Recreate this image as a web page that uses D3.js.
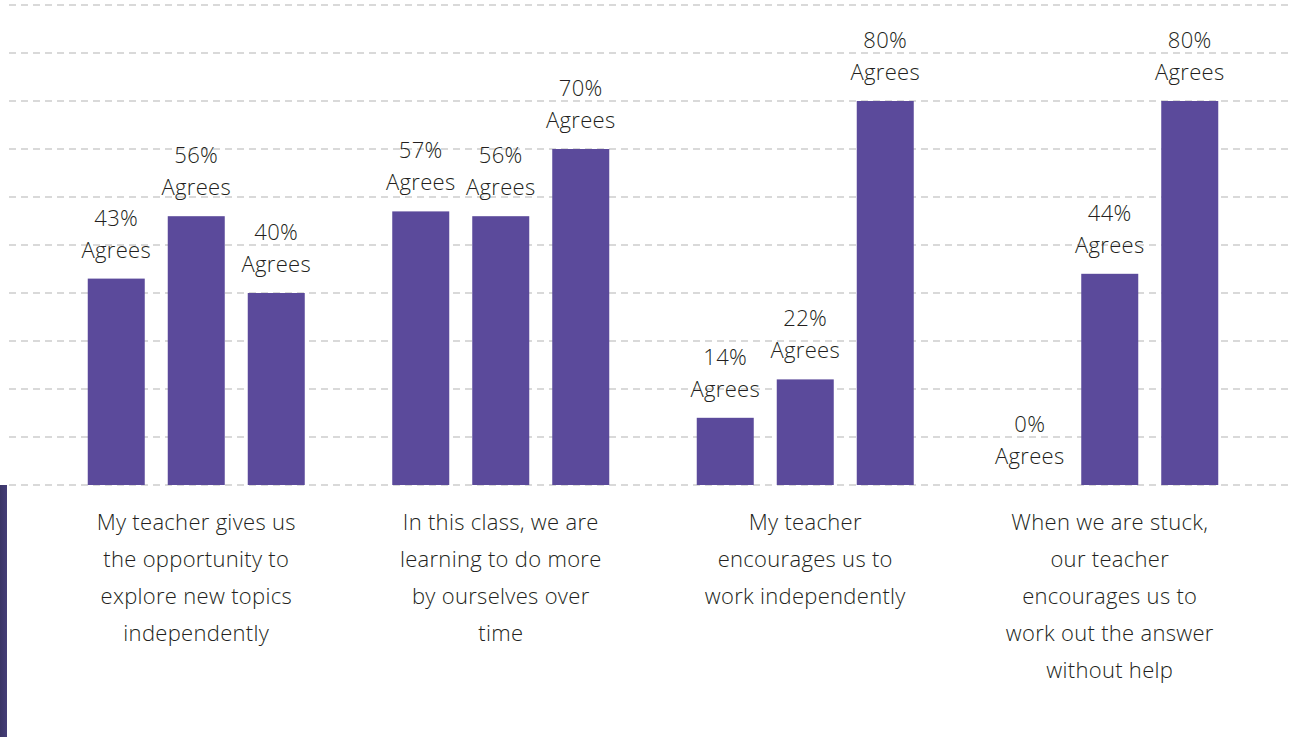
<!DOCTYPE html>
<html>
<head>
<meta charset="utf-8">
<script src="https://cdn.jsdelivr.net/npm/d3@7"></script>
<style>
  html, body { margin: 0; padding: 0; background: #fff; }
  svg { display: block; }
  text { font-family: "Open Sans", Lato, sans-serif; font-weight: 300; letter-spacing: 0.3px; fill: #231f20; }
</style>
</head>
<body>
<svg id="chart" width="1292" height="737"></svg>
<script>
// data
const categories = [
  ['My teacher gives us', 'the opportunity to', 'explore new topics', 'independently'],
  ['In this class, we are', 'learning to do more', 'by ourselves over', 'time'],
  ['My teacher', 'encourages us to', 'work independently'],
  ['When we are stuck,', 'our teacher', 'encourages us to', 'work out the answer', 'without help']
];
const seriesKeys = ['s1', 's2', 's3'];
const s1 = [43, 57, 14, 0];
const s2 = [56, 56, 22, 44];
const s3 = [40, 70, 80, 80];
const gridTicks = [0, 10, 20, 30, 40, 50, 60, 70, 80, 90, 100];

const width = 1292, height = 737;
const barColor = '#5b4a9b';
const fontSize = 22;
const svg = d3.select('#chart');

const x0 = d3.scaleBand()
  .domain(d3.range(categories.length))
  .range([44, 1262]);

const y = d3.scaleLinear()
  .domain([0, 100])
  .range([485, 5]);

// left accent strip
const grad = svg.append('defs').append('linearGradient')
  .attr('id', 'strip').attr('x1', 0).attr('x2', 1);
grad.append('stop').attr('offset', '0%').attr('stop-color', '#3a3566');
grad.append('stop').attr('offset', '100%').attr('stop-color', '#453e78');
svg.append('rect')
  .attr('x', 0).attr('y', y(0))
  .attr('width', 7).attr('height', height - y(0))
  .attr('fill', 'url(#strip)');

// dashed gridlines
svg.append('g')
  .selectAll('line')
  .data(gridTicks)
  .join('line')
  .attr('x1', 9).attr('x2', width)
  .attr('y1', d => y(d)).attr('y2', d => y(d))
  .attr('stroke', '#d9d9d9')
  .attr('stroke-width', 2)
  .attr('stroke-dasharray', '7,5');

const rows = categories.map((c, i) => ({
  i,
  values: seriesKeys.map((k, j) => ({ key: k, v: [s1, s2, s3][j][i] }))
}));

const groups = svg.append('g')
  .selectAll('g')
  .data(rows)
  .join('g')
  .attr('transform', d => `translate(${x0(d.i)},0)`);

const half = x0.bandwidth() / 2;
const x1 = d3.scaleBand()
  .domain(seriesKeys)
  .range([half - 120, half + 120])
  .paddingInner(0.2875)
  .paddingOuter(0.14375);

groups.selectAll('rect')
  .data(d => d.values)
  .join('rect')
  .attr('x', d => x1(d.key))
  .attr('y', d => y(d.v))
  .attr('width', x1.bandwidth())
  .attr('height', d => y(0) - y(d.v))
  .attr('fill', barColor);

const lbl = groups.selectAll('g.lbl')
  .data(d => d.values)
  .join('g')
  .attr('class', 'lbl')
  .attr('transform', d => `translate(${x1(d.key) + x1.bandwidth() / 2},${y(d.v)})`);

lbl.append('text')
  .attr('text-anchor', 'middle')
  .attr('y', -53)
  .attr('font-size', fontSize)
  .text(d => d.v + '%');

lbl.append('text')
  .attr('text-anchor', 'middle')
  .attr('y', -21)
  .attr('font-size', fontSize)
  .text('Agrees');

// category labels
groups.append('text')
  .attr('text-anchor', 'middle')
  .attr('font-size', fontSize)
  .selectAll('tspan')
  .data(d => categories[d.i])
  .join('tspan')
  .attr('x', half)
  .attr('y', (d, k) => 530 + k * 37)
  .text(d => d);
</script>
</body>
</html>
